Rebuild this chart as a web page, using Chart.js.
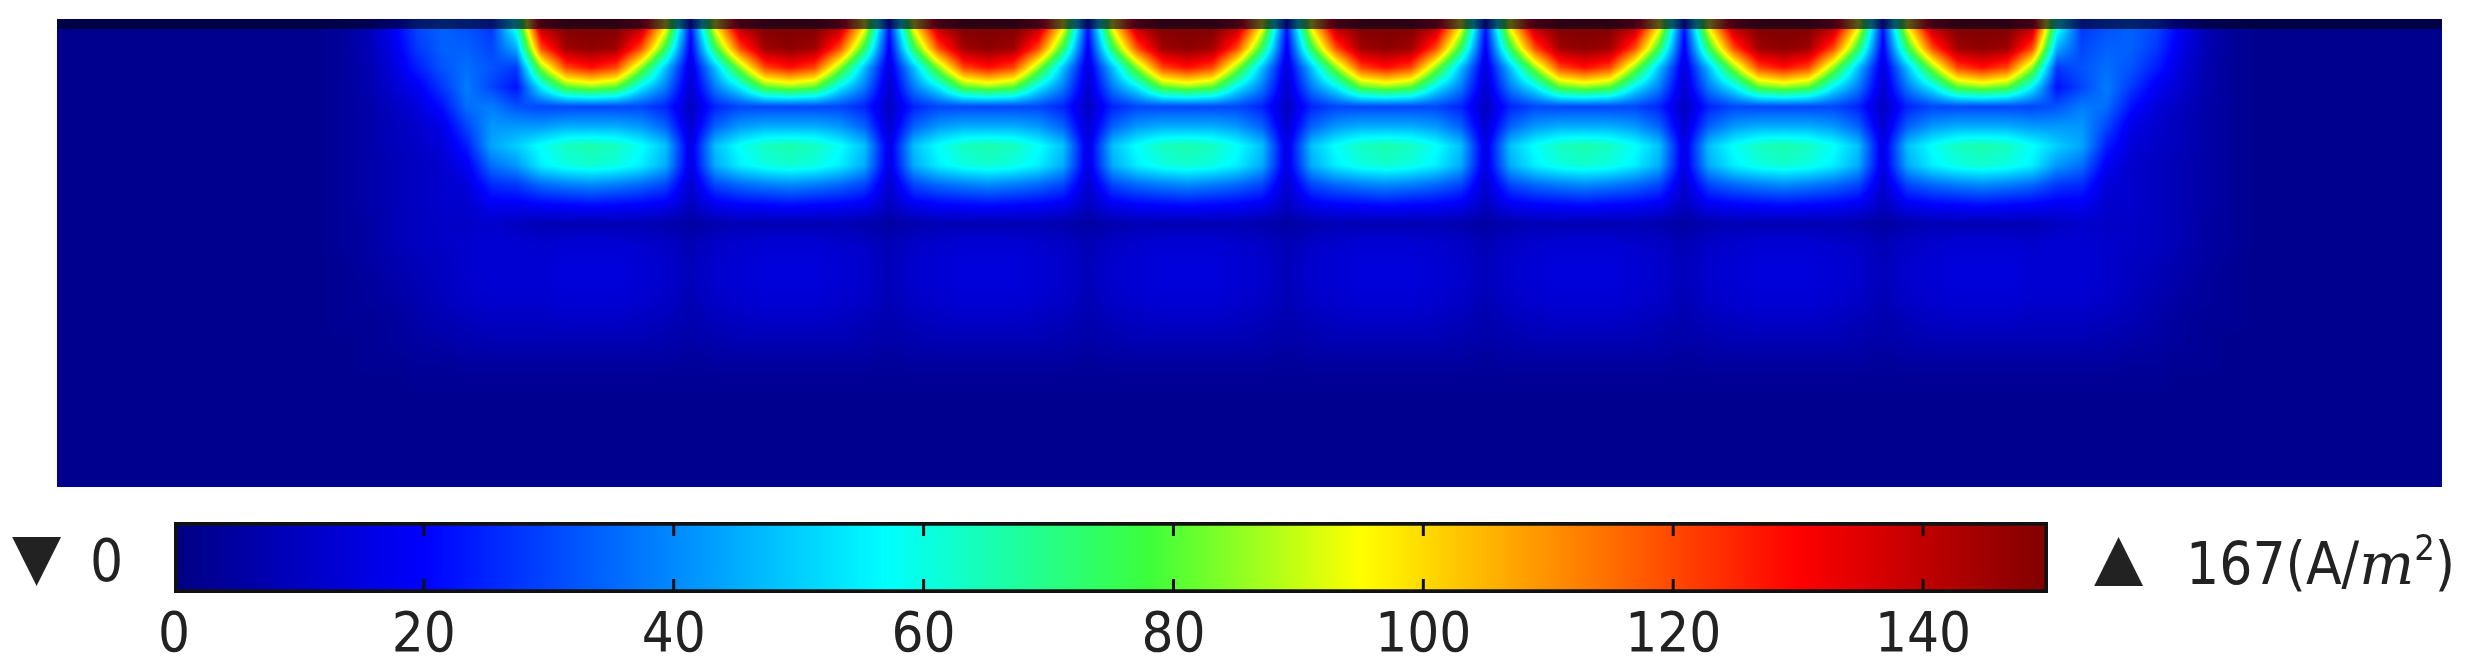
<!DOCTYPE html>
<html>
<head>
<meta charset="utf-8">
<script src="https://cdn.jsdelivr.net/npm/chart.js@4"></script>
<style>
  body { margin: 0; background: #fff; width: 2482px; height: 664px; overflow: hidden; position: relative; font-family: "Liberation Sans Narrow", "DejaVu Sans Condensed", sans-serif; }
  #fieldBox { position: absolute; left: 0; top: 0; width: 2482px; height: 500px; }
  #barBox { position: absolute; left: 0; top: 500px; width: 2482px; height: 164px; }
  .lbl { position: absolute; color: #222; font-size: 58px; line-height: 1; white-space: nowrap; }
</style>
</head>
<body>
<div id="fieldBox"><canvas id="field"></canvas></div>
<div id="barBox"><canvas id="bar"></canvas></div>
<div class="lbl" style="left:12px;top:524px;font-size:64px;font-family:'DejaVu Sans'">&#9660;</div>
<div class="lbl" style="left:90px;top:532px">0</div>
<div class="lbl" style="left:2094px;top:524px;font-size:64px;font-family:'DejaVu Sans'">&#9650;</div>
<div class="lbl" style="left:2186px;top:530px">167(A/<i style="font-family:'DejaVu Serif'">m</i><sup style="font-size:36px;vertical-align:24px">2</sup>)</div>
<script>
// current density |J| in A/m^2, 24 rows (top -> bottom) per column profile
const rowCount = 24;
const colCount = 96;
const pCenter = [150,148,128,85,30,45,66,62,40,22,8,13,14,14,13,11,8,5,3,2,2,2,2,2];
const pNear   = [150,145,120,80,30,45,64,60,38,21,8,13,14,14,13,11,8,5,3,2,2,2,2,2];
const pMid    = [140,120,85,55,30,42,58,55,35,20,8,12,13,13,12,10,8,5,3,2,2,2,2,2];
const pRing   = [95,75,48,38,25,34,48,45,30,18,7,11,12,12,11,9,7,5,3,2,2,2,2,2];
const pGap    = [22,18,14,12,10,12,15,15,12,10,5,8,9,9,8,7,6,4,3,2,2,2,2,2];
const pEdge   = [60,45,28,22,32,42,50,42,28,18,10,13,13,13,12,10,8,5,3,2,2,2,2,2];
const pArc1   = [28,30,32,30,38,42,44,36,26,18,12,13,13,13,12,10,8,5,3,2,2,2,2,2];
const pArc2   = [32,34,36,38,36,30,24,18,14,12,11,12,12,12,11,9,7,5,3,2,2,2,2,2];
const pArc3   = [34,34,32,28,22,16,14,12,12,12,11,11,10,10,9,8,6,4,3,2,2,2,2,2];
const pArc4   = [30,28,24,18,14,12,11,10,10,10,10,10,9,8,7,6,5,4,3,2,2,2,2,2];
const pArc5   = [18,16,14,12,10,9,9,8,8,8,8,8,7,6,5,4,4,3,2,2,2,2,2,2];
const pArc6   = [8,8,7,7,6,6,6,6,6,6,5,5,5,4,4,3,3,3,2,2,2,2,2,2];
const pArc7   = [4,4,4,4,4,4,4,4,4,4,4,4,3,3,3,3,2,2,2,2,2,2,2,2];
const pBack   = [2,2,2,2,2,2,2,2,2,2,2,2,2,2,2,2,2,2,2,2,2,2,2,2];

// profile used by each of the 96 columns, left -> right
const columnLayout = [
  pBack,pBack,pBack,pBack,pBack,pBack,pBack,pBack,pBack,pBack,pBack,
  pArc7,pArc6,pArc5,pArc4,pArc3,pArc2,pArc1,
  pEdge,pMid,pNear,pCenter,pNear,pMid,pRing,pGap,
  pRing,pMid,pNear,pCenter,pNear,pMid,pRing,pGap,
  pRing,pMid,pNear,pCenter,pNear,pMid,pRing,pGap,
  pRing,pMid,pNear,pCenter,pNear,pMid,pRing,pGap,
  pRing,pMid,pNear,pCenter,pNear,pMid,pRing,pGap,
  pRing,pMid,pNear,pCenter,pNear,pMid,pRing,pGap,
  pRing,pMid,pNear,pCenter,pNear,pMid,pRing,pGap,
  pRing,pMid,pNear,pCenter,pNear,pMid,pEdge,
  pArc1,pArc2,pArc3,pArc4,pArc5,pArc6,pArc7,
  pBack,pBack,pBack,pBack,pBack,pBack,pBack,pBack,pBack
];

const colorStops = [0, 20, 57, 78, 95, 130, 150];
const stopColors = [[0,0,130],[0,0,255],[0,255,255],[60,255,60],[255,255,0],[255,0,0],[128,0,0]];
const colorbarTicks = [0, 20, 40, 60, 80, 100, 120, 140];
const colorbarMax = 150;

function colorFor(v) {
  if (v <= colorStops[0]) return stopColors[0];
  for (let i = 1; i < colorStops.length; i++) {
    if (v <= colorStops[i]) {
      const t = (v - colorStops[i-1]) / (colorStops[i] - colorStops[i-1]);
      const a = stopColors[i-1], b = stopColors[i];
      return [a[0]+(b[0]-a[0])*t, a[1]+(b[1]-a[1])*t, a[2]+(b[2]-a[2])*t];
    }
  }
  return stopColors[stopColors.length-1];
}

function cell(c, r) {
  c = Math.max(0, Math.min(colCount-1, c));
  r = Math.max(0, Math.min(rowCount-1, r));
  return columnLayout[c][r];
}

// paints the field with bilinear interpolation of values, placed through the scales
const fieldPlugin = {
  id: 'field',
  beforeDatasetsDraw(chart) {
    const xs = chart.scales.x, ys = chart.scales.y;
    const x0 = Math.round(xs.getPixelForValue(0)), x1 = Math.round(xs.getPixelForValue(colCount));
    const y0 = Math.round(ys.getPixelForValue(0)), y1 = Math.round(ys.getPixelForValue(rowCount));
    const w = x1 - x0, h = y1 - y0;
    const ctx = chart.ctx;
    const img = ctx.createImageData(w, h);
    for (let py = 0; py < h; py++) {
      const fy = ys.getValueForPixel(y0 + py + 0.5) - 0.5;
      const r0 = Math.floor(fy), ty = fy - r0;
      for (let px = 0; px < w; px++) {
        const fx = xs.getValueForPixel(x0 + px + 0.5) - 0.5;
        const c0 = Math.floor(fx), tx = fx - c0;
        const v = (cell(c0,r0)*(1-tx) + cell(c0+1,r0)*tx)*(1-ty) + (cell(c0,r0+1)*(1-tx) + cell(c0+1,r0+1)*tx)*ty;
        const col = colorFor(v);
        const k = (py*w + px)*4;
        img.data[k] = col[0]; img.data[k+1] = col[1]; img.data[k+2] = col[2]; img.data[k+3] = 255;
      }
    }
    const dpr = chart.currentDevicePixelRatio || 1;
    ctx.putImageData(img, x0*dpr, y0*dpr);
    ctx.save();
    ctx.fillStyle = 'rgba(0,0,30,0.65)';
    ctx.fillRect(x0, y0, w, 10);
    ctx.restore();
  }
};

new Chart(document.getElementById('field'), {
  type: 'scatter',
  data: { datasets: [{ data: [], pointRadius: 0 }] },
  options: {
    responsive: true, maintainAspectRatio: false, animation: false, devicePixelRatio: 1,
    layout: { padding: { left: 57, right: 40, top: 19, bottom: 13 } },
    plugins: { legend: { display: false }, tooltip: { enabled: false } },
    scales: {
      x: { type: 'linear', min: 0, max: colCount, display: false },
      y: { type: 'linear', min: 0, max: rowCount, reverse: true, display: false }
    }
  },
  plugins: [fieldPlugin]
});

// tick marks inside the colour bar
const barTickPlugin = {
  id: 'barTicks',
  afterDatasetsDraw(chart) {
    const ctx = chart.ctx, xs = chart.scales.x, a = chart.chartArea;
    ctx.save();
    ctx.strokeStyle = '#111';
    ctx.lineWidth = 3;
    colorbarTicks.forEach(v => {
      if (v === 0) return;
      const x = xs.getPixelForValue(v);
      ctx.beginPath();
      ctx.moveTo(x, a.top); ctx.lineTo(x, a.top + 14);
      ctx.moveTo(x, a.bottom); ctx.lineTo(x, a.bottom - 14);
      ctx.stroke();
    });
    ctx.restore();
  }
};

new Chart(document.getElementById('bar'), {
  type: 'bar',
  data: {
    labels: ['J'],
    datasets: [{
      data: [[0, colorbarMax]],
      borderColor: '#111', borderWidth: 4, borderSkipped: false,
      barPercentage: 1, categoryPercentage: 1,
      backgroundColor(ctx) {
        const ch = ctx.chart, a = ch.chartArea;
        if (!a) return '#00f';
        const xs = ch.scales.x;
        const g = ch.ctx.createLinearGradient(xs.getPixelForValue(0), 0, xs.getPixelForValue(colorbarMax), 0);
        colorStops.forEach((s, i) => {
          const c = stopColors[i];
          g.addColorStop(s / colorbarMax, 'rgb(' + c.join(',') + ')');
        });
        return g;
      }
    }]
  },
  options: {
    indexAxis: 'y',
    responsive: true, maintainAspectRatio: false, animation: false, devicePixelRatio: 1,
    layout: { padding: { left: 174, right: 434, top: 22, bottom: 0 } },
    plugins: { legend: { display: false }, tooltip: { enabled: false } },
    scales: {
      x: {
        type: 'linear', min: 0, max: colorbarMax,
        grid: { display: false }, border: { display: false },
        afterBuildTicks(scale) { scale.ticks = colorbarTicks.map(v => ({ value: v })); },
        ticks: { color: '#222', padding: 2, maxRotation: 0, autoSkip: false,
                 font: { family: '"Liberation Sans Narrow", "DejaVu Sans Condensed", sans-serif', size: 56 } }
      },
      y: { display: false }
    }
  },
  plugins: [barTickPlugin]
});
</script>
</body>
</html>
